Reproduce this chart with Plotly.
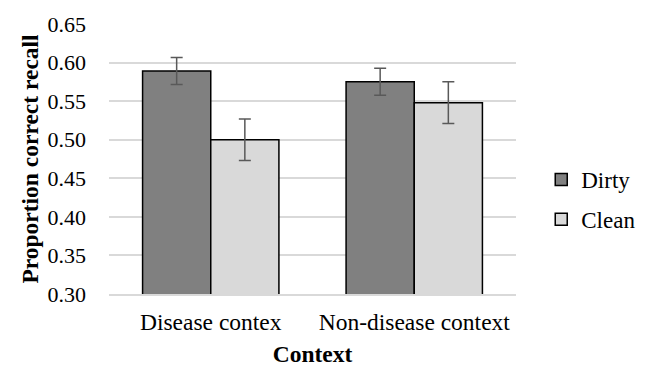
import plotly.graph_objects as go

categories = ["Disease contex", "Non-disease context"]
dirty = [0.589, 0.575]
dirty_err = [0.0175, 0.0175]
clean = [0.500, 0.548]
clean_err = [0.027, 0.027]
y_ticks = [0.30, 0.35, 0.40, 0.45, 0.50, 0.55, 0.60, 0.65]

font_family = "Liberation Serif"

fig = go.Figure()
for name, vals, errs, color, grp in [("Dirty", dirty, dirty_err, "#808080", "a"),
                                      ("Clean", clean, clean_err, "#d9d9d9", "b")]:
    fig.add_trace(go.Bar(
        name=name, x=categories, y=vals, legendgroup=grp,
        marker=dict(color=color, line=dict(color="black", width=1.5)),
        error_y=dict(type="data", array=errs, visible=True,
                     color="#595959", thickness=1.5, width=6),
    ))

fig.update_layout(
    width=648, height=367,
    margin=dict(l=101, r=140, t=16, b=81, autoexpand=False),
    paper_bgcolor="white", plot_bgcolor="white",
    barmode="group", bargap=0.33, bargroupgap=0,
    font=dict(family=font_family, size=23, color="black"),
    legend=dict(x=1.062, y=0.35, xanchor="left", yanchor="middle",
                font=dict(size=23), tracegroupgap=7, traceorder="grouped",
                itemwidth=30),
    showlegend=True,
)
fig.update_yaxes(
    automargin=False,
    range=[0.30, 0.65], tickvals=y_ticks, ticktext=[f"{v:.2f}" for v in y_ticks],
    tickfont=dict(size=22),
    showgrid=True, gridcolor="#d9d9d9", gridwidth=1.5, zeroline=False,
    showline=False, ticks="", ticklabelstandoff=22,
    title=dict(text="<b>Proportion correct recall</b>", font=dict(size=23.5), standoff=2),
)
fig.update_xaxes(
    automargin=False,
    showline=True, linecolor="#d9d9d9", linewidth=1.5, ticks="",
    tickfont=dict(size=23.5),
    title=dict(text="<b>Context</b>", font=dict(size=23.5), standoff=12),
    ticklabelstandoff=6,
)
fig.write_html("out.html")
